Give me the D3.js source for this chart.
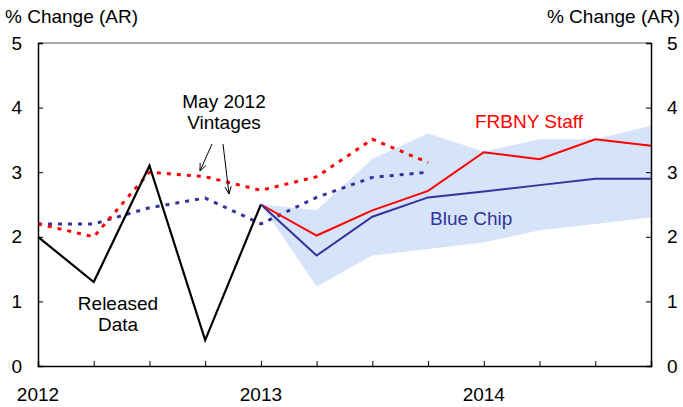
<!DOCTYPE html>
<html>
<head>
<meta charset="utf-8">
<script src="https://cdn.jsdelivr.net/npm/d3@7"></script>
<style>
  body { margin: 0; background: #fff; }
  text { font-family: "Liberation Sans", Arial, sans-serif; }
</style>
</head>
<body>
<div id="chart"></div>
<script>
// quarters 2012Q1 .. 2014Q4 (index 0..11)
const quarters = d3.range(12);
const yearLabels = [
  { q: 0, label: "2012" },
  { q: 4, label: "2013" },
  { q: 8, label: "2014" }
];
const yTicks = [0, 1, 2, 3, 4, 5];

// released data (black)
const released = [2.0, 1.3, 3.1, 0.4, 2.5];
// May 2012 vintages (dotted)
const frbnyVintage = [2.2, 2.0, 3.0, 2.93, 2.72, 2.93, 3.51, 3.15];
const blueChipVintage = [2.2, 2.2, 2.45, 2.6, 2.2, 2.61, 2.92, 3.0];
// current forecasts from 2013Q1 (index 4)
const frbnyStaff = [2.5, 2.02, 2.41, 2.71, 3.31, 3.2, 3.51, 3.41];
const blueChip = [2.5, 1.71, 2.31, 2.61, 2.7, 2.8, 2.9, 2.9];
// Blue Chip range (shaded)
const bandHigh = [2.5, 2.41, 3.21, 3.6, 3.32, 3.51, 3.51, 3.72];
const bandLow = [2.5, 1.23, 1.71, 1.81, 1.91, 2.1, 2.2, 2.3];

const W = 683, H = 407;
const margin = { top: 43, right: 32, bottom: 41, left: 38 };
const width = W - margin.left - margin.right;
const height = H - margin.top - margin.bottom;

const svg = d3.select("#chart").append("svg")
  .attr("width", W).attr("height", H);
const g = svg.append("g")
  .attr("transform", `translate(${margin.left},${margin.top})`);

const x = d3.scaleLinear().domain([0, 11]).range([0, width]);
const y = d3.scaleLinear().domain([0, 5]).range([height, 0]);

const red = "#ff0000", navy = "#333399";

// shaded band
const band = bandHigh.map((h, i) => ({ q: i + 4, hi: h, lo: bandLow[i] }));
g.append("path")
  .datum(band)
  .attr("fill", "#d6e4fa")
  .attr("d", d3.area().x(d => x(d.q)).y0(d => y(d.lo)).y1(d => y(d.hi)));

const line = d3.line().x(d => x(d[0])).y(d => y(d[1]));
function series(vals, start) { return vals.map((v, i) => [i + start, v]); }

// dotted vintages
g.append("path").datum(series(blueChipVintage, 0))
  .attr("fill", "none").attr("stroke", navy).attr("stroke-width", 3)
  .attr("stroke-dasharray", "4,6").attr("d", line);
g.append("path").datum(series(frbnyVintage, 0))
  .attr("fill", "none").attr("stroke", red).attr("stroke-width", 3)
  .attr("stroke-dasharray", "4,6").attr("d", line);

// released data
g.append("path").datum(series(released, 0))
  .attr("fill", "none").attr("stroke", "#000").attr("stroke-width", 2.2)
  .attr("d", line);

// forecasts
g.append("path").datum(series(frbnyStaff, 4))
  .attr("fill", "none").attr("stroke", red).attr("stroke-width", 2)
  .attr("d", line);
g.append("path").datum(series(blueChip, 4))
  .attr("fill", "none").attr("stroke", navy).attr("stroke-width", 2)
  .attr("d", line);

// frame: top line
g.append("line").attr("x1", 0).attr("x2", width).attr("y1", 0).attr("y2", 0)
  .attr("stroke", "#555").attr("stroke-width", 1);

// axes
const fs = "19px";
const left = g.append("g")
  .call(d3.axisLeft(y).tickValues(yTicks).tickFormat(d3.format("d")).tickSize(-5).tickPadding(16));
const right = g.append("g").attr("transform", `translate(${width},0)`)
  .call(d3.axisRight(y).tickValues(yTicks).tickFormat(d3.format("d")).tickSize(-5).tickPadding(16));
const bottom = g.append("g").attr("transform", `translate(0,${height})`)
  .call(d3.axisBottom(x).tickValues(quarters).tickSize(-5).tickFormat(""));
[left, right, bottom].forEach(a => {
  a.select(".domain").attr("stroke", "#000").attr("stroke-width", 1.5);
  a.selectAll(".tick line").attr("stroke", "#000");
  a.selectAll("text").style("font-size", fs).attr("fill", "#000");
});

g.selectAll(".year").data(yearLabels).enter().append("text")
  .attr("x", d => x(d.q)).attr("y", height + 35)
  .attr("text-anchor", "middle").style("font-size", fs)
  .text(d => d.label);

// unit labels
svg.append("text").attr("x", 5).attr("y", 23).style("font-size", fs)
  .text("% Change (AR)");
svg.append("text").attr("x", 680).attr("y", 23).attr("text-anchor", "end")
  .style("font-size", fs).text("% Change (AR)");

// annotations
function label(lines, cx, by, color) {
  const t = svg.append("text").attr("text-anchor", "middle")
    .style("font-size", fs).attr("fill", color);
  lines.forEach((s, i) => t.append("tspan").attr("x", cx).attr("y", by + i * 21).text(s));
}
label(["May 2012", "Vintages"], 224, 108, "#000");
label(["Released", "Data"], 118, 310, "#000");
label(["FRBNY Staff"], 529, 128, red);
svg.append("text").attr("x", 430).attr("y", 225).style("font-size", fs)
  .attr("fill", navy).text("Blue Chip");

// arrows
const arrows = [
  { x1: 212, y1: 144, x2: 200, y2: 171 },
  { x1: 223, y1: 144, x2: 229, y2: 194 }
];
arrows.forEach(a => {
  svg.append("line").attr("x1", a.x1).attr("y1", a.y1).attr("x2", a.x2).attr("y2", a.y2)
    .attr("stroke", "#000").attr("stroke-width", 1);
  const ang = Math.atan2(a.y2 - a.y1, a.x2 - a.x1);
  const L = 8, sp = 0.4;
  [ang + Math.PI - sp, ang + Math.PI + sp].forEach(t => {
    svg.append("line").attr("x1", a.x2).attr("y1", a.y2)
      .attr("x2", a.x2 + L * Math.cos(t)).attr("y2", a.y2 + L * Math.sin(t))
      .attr("stroke", "#000").attr("stroke-width", 1);
  });
});
</script>
</body>
</html>
